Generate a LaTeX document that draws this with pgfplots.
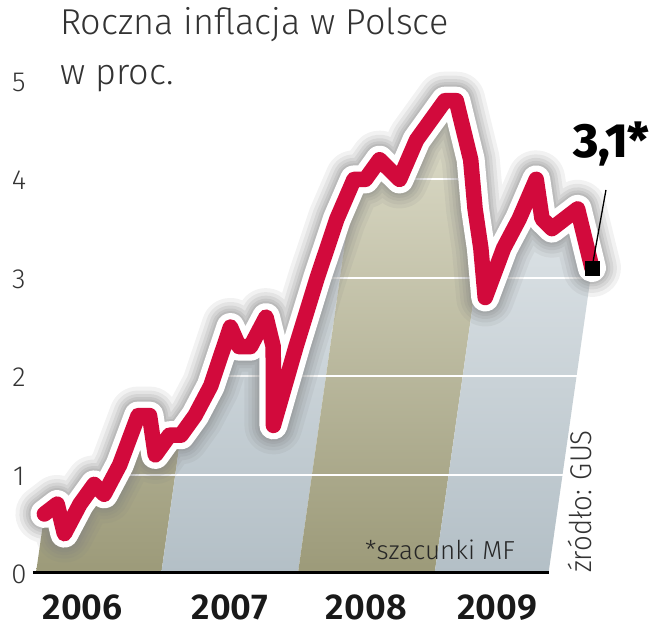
\documentclass[border=0pt]{standalone}
\usepackage{fontspec}
\setmainfont{Fira Sans}
\newfontfamily\lightfont{Fira Sans Light}
\newfontfamily\lightcond{Fira Sans Light}[FakeStretch=0.92]
\newfontfamily\semifont{Fira Sans SemiBold}
\newfontfamily\heavyfont{Fira Sans ExtraBold}
\usepackage{pgfplots}
\pgfplotsset{compat=1.18}
\usepackage{pgfplotstable}

\definecolor{linered}{HTML}{D20A3C}
\definecolor{olivebot}{HTML}{9C9A79}
\definecolor{olivetop}{HTML}{E2E1CF}
\definecolor{bluebot}{HTML}{B3BFC6}
\definecolor{bluetop}{HTML}{ECF0F2}
\definecolor{txt}{HTML}{333333}

% inflacja r/r, miesiace od I 2006 (0) do X 2009 (45)
\pgfplotstableread{
m v
0 0.6
1 0.7
2 0.4
3 0.7
4 0.9
5 0.8
6 1.1
7 1.6
8 1.6
9 1.2
10 1.4
11 1.4
12 1.6
13 1.9
14 2.5
15 2.3
16 2.3
17 2.6
18 2.3
19 1.5
20 2.3
21 3.0
22 3.6
23 4.0
24 4.0
25 4.2
26 4.1
27 4.0
28 4.4
29 4.6
30 4.8
31 4.8
32 4.5
33 4.2
34 3.7
35 3.3
36 2.8
37 3.3
38 3.6
39 4.0
40 3.6
41 3.5
42 3.6
43 3.7
44 3.4
45 3.1
}\inflacja

\begin{document}
\begin{tikzpicture}

% os z pochylonym ukladem (efekt 3D)
\begin{axis}[
  x={(11.39pt,0pt)}, y={(14pt,98.4pt)},
  anchor=origin, at={(36pt,67pt)},
  xmin=0, xmax=45, ymin=0, ymax=5,
  hide axis, clip=false,
]
% pasy lat
\addplot[draw=none, bottom color=olivebot, top color=olivetop] coordinates {(0,0) (0,5) (11,5) (11,0)} -- cycle;
\addplot[draw=none, bottom color=bluebot, top color=bluetop] coordinates {(11,0) (11,5) (23,5) (23,0)} -- cycle;
\addplot[draw=none, bottom color=olivebot, top color=olivetop] coordinates {(23,0) (23,5) (35,5) (35,0)} -- cycle;
\addplot[draw=none, bottom color=bluebot, top color=bluetop] coordinates {(35,0) (35,5) (45,5) (45,0)} -- cycle;
% biala maska nad krzywa
\addplot[draw=none, fill=white] table[x=m, y=v] {\inflacja}
  -- (axis cs:45.6,3.1) -- (axis cs:45.6,5.7) -- (axis cs:-0.6,5.7) -- (axis cs:-0.6,0.6) -- cycle;
% siatka
\addplot[white, line width=2pt] coordinates {(0,1) (45,1)};
\addplot[white, line width=2pt] coordinates {(0,2) (45,2)};
\addplot[white, line width=2pt] coordinates {(0,3) (45,3)};
\addplot[white, line width=2pt] coordinates {(0,4) (45,4)};
% cien
\addplot[gray, opacity=0.10, line width=58pt, line join=round, line cap=round] table[x=m, y=v] {\inflacja};
\addplot[gray, opacity=0.12, line width=50pt, line join=round, line cap=round] table[x=m, y=v] {\inflacja};
\addplot[gray, opacity=0.14, line width=43pt, line join=round, line cap=round] table[x=m, y=v] {\inflacja};
\addplot[gray, opacity=0.16, line width=37pt, line join=round, line cap=round] table[x=m, y=v] {\inflacja};
\addplot[gray, opacity=0.18, line width=32pt, line join=round, line cap=round] table[x=m, y=v] {\inflacja};
% obwodka i linia
\addplot[white, line width=28pt, line join=round, line cap=round] table[x=m, y=v] {\inflacja};
\addplot[linered, line width=15.5pt, line join=round, line cap=round] table[x=m, y=v] {\inflacja};
% odnosnik i znacznik
\draw[black, line width=1.3pt] (axis cs:45,3.1) -- ++(14pt,78pt);
\addplot[only marks, mark=square*, mark size=7pt, black] coordinates {(45,3.1)};
\node[anchor=base west, inner sep=0pt, font=\heavyfont\fontsize{48}{48}\selectfont, xshift=-19pt, yshift=110pt]
  at (axis cs:45,3.1) {3,1*};
\end{axis}

% os z podpisami
\begin{axis}[
  x={(11.39pt,0pt)}, y={(0pt,98.4pt)},
  anchor=origin, at={(36pt,67pt)},
  xmin=-0.27, xmax=45.05, ymin=0, ymax=5,
  axis x line=bottom, axis y line=left, axis line style={-},
  x axis line style={line width=3pt, black},
  y axis line style={draw=none},
  major tick length=0pt,
  ytick={0,1,2,3,4,5},
  xtick={4.1,17,29,40.5}, xticklabels={2006,2007,2008,2009},
  /pgf/number format/assume math mode=true,
  yticklabel style={anchor=base, xshift=-14pt, yshift=-10.5pt, font=\lightfont\fontsize{27.6}{27.6}\selectfont, text=txt},
  xticklabel style={anchor=base, yshift=-47pt, font=\semifont\fontsize{36}{36}\selectfont, text=black!90},
  clip=false,
]
\end{axis}

\node[anchor=base west, inner sep=0pt, font=\lightfont\fontsize{36}{36}\selectfont, text=txt] at (60pt,605pt) {Roczna inflacja w Polsce};
\node[anchor=base west, inner sep=0pt, font=\lightfont\fontsize{36}{36}\selectfont, text=txt] at (60pt,555pt) {w proc.};
\node[anchor=base west, inner sep=0pt, font=\lightfont\fontsize{26}{26}\selectfont, text=black!85] at (365pt,80pt) {*szacunki MF};
\node[rotate=90, anchor=base west, inner sep=0pt, font=\lightcond\fontsize{30}{30}\selectfont, text=txt] at (591pt,67pt) {źródło: GUS};

\pgfresetboundingbox
\path[use as bounding box] (0pt,0pt) rectangle (651pt,640pt);
\end{tikzpicture}
\end{document}
